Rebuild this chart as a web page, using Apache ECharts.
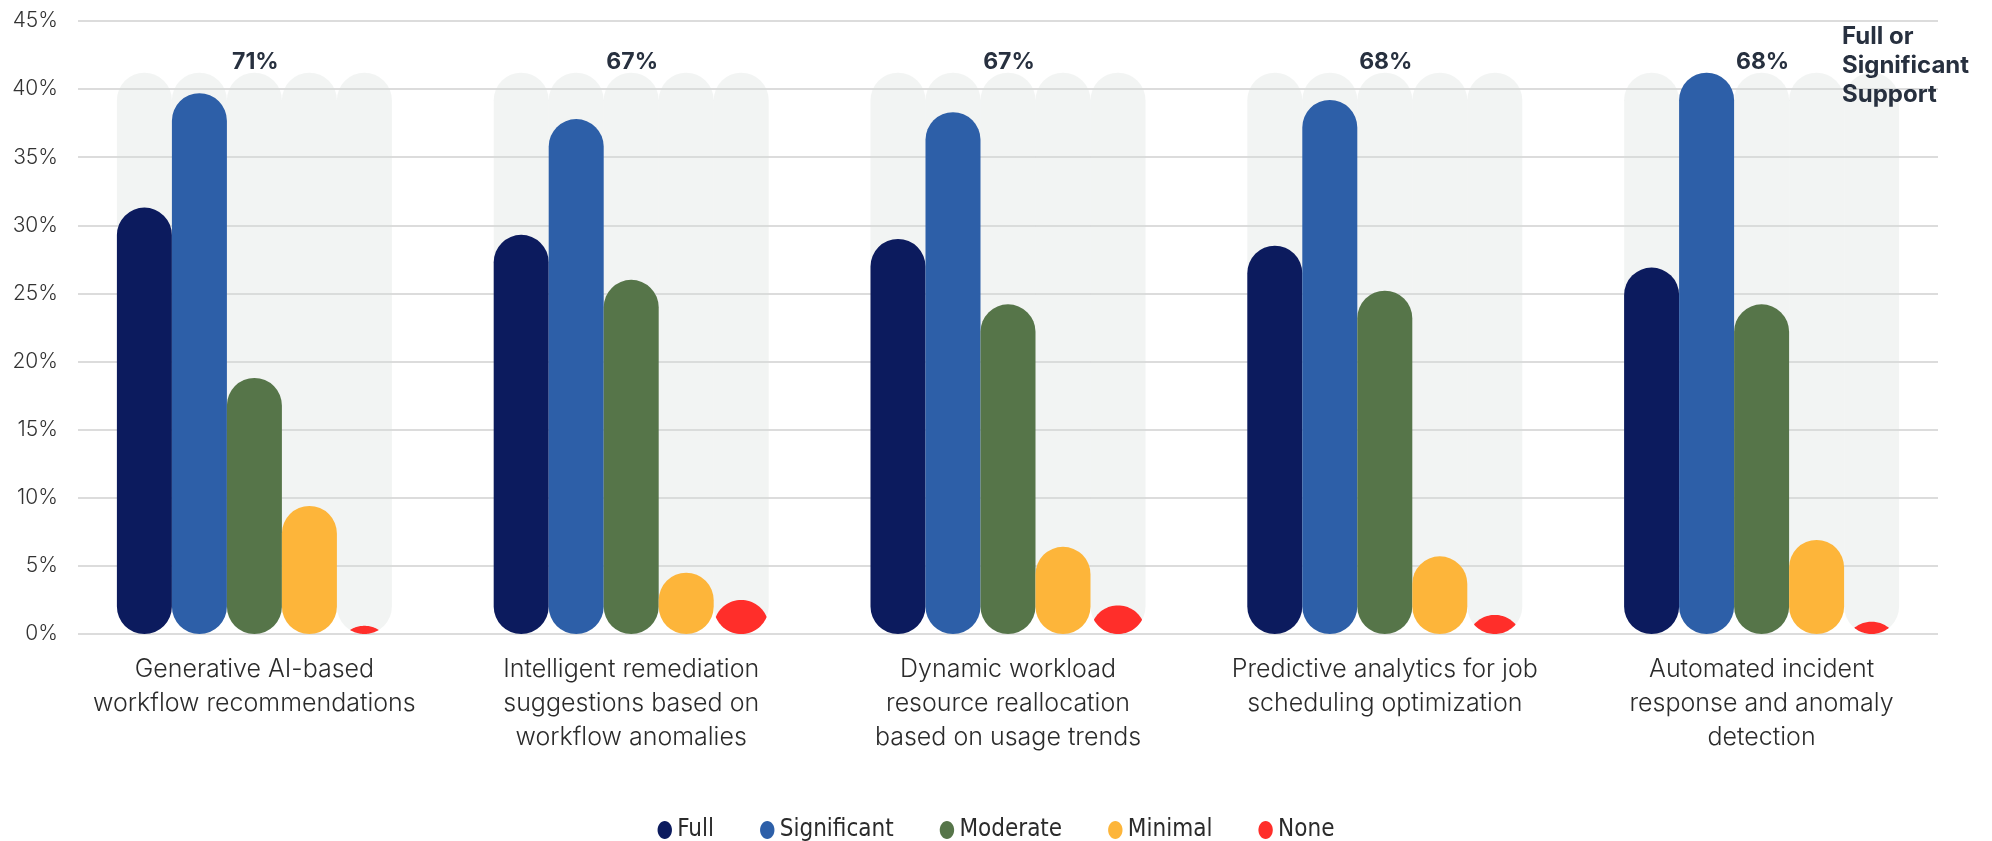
<!DOCTYPE html>
<html>
<head>
<meta charset="utf-8">
<script src="https://cdn.jsdelivr.net/npm/echarts@6/dist/echarts.min.js"></script>
<style>
html,body{margin:0;padding:0;background:#fff;}
#chart{width:1992px;height:841px;}
</style>
</head>
<body>
<div id="chart"></div>
<script>
const categories = [
  'Generative AI-based\nworkflow recommendations',
  'Intelligent remediation\nsuggestions based on\nworkflow anomalies',
  'Dynamic workload\nresource reallocation\nbased on usage trends',
  'Predictive analytics for job\nscheduling optimization',
  'Automated incident\nresponse and anomaly\ndetection'
];
const seriesNames = ['Full', 'Significant', 'Moderate', 'Minimal', 'None'];
const full        = [31.3, 29.3, 29.0, 28.5, 26.9];
const significant = [39.7, 37.8, 38.3, 39.2, 41.2];
const moderate    = [18.8, 26.0, 24.2, 25.2, 24.2];
const minimal     = [9.4, 4.5, 6.4, 5.7, 6.9];
const none        = [0.6, 2.5, 2.1, 1.4, 0.9];
const totals      = ['71%', '67%', '67%', '68%', '68%'];
const bgValues    = [41.2, 41.2, 41.2, 41.2, 41.2];
const yTicks      = { min: 0, max: 45, interval: 5 };

const colors = ['#0c1b5e', '#2d5fa8', '#567549', '#fdb53a', '#ff2e2a'];
const BAR_W = 55;
const FONT = 'Inter, "Noto Sans", sans-serif';
const NARROW = '"Liberation Sans Narrow", "DejaVu Sans Condensed", Roboto, sans-serif';

function drawBar(api, k) {
  const i = api.value(0), v = api.value(1);
  const b = api.coord([i, 0]);
  const t = api.coord([i, v]);
  const w = BAR_W, r = w / 2;
  const cx = b[0] + (k - 2) * w;
  const h = b[1] - t[1];
  const style = api.style();
  if (h >= w) {
    return { type: 'rect', shape: { x: cx - r, y: t[1], width: w, height: h, r: r }, style: style };
  }
  const ct = t[1] + r, cb = b[1] - r, mid = (t[1] + b[1]) / 2;
  const dh = (ct - cb) / 2;
  const hw = Math.sqrt(Math.max(r * r - dh * dh, 0));
  const pts = [];
  const N = 30;
  const a0 = Math.atan2(mid - ct, -hw), a1 = Math.atan2(mid - ct, hw);
  for (let s = 0; s <= N; s++) {
    const a = a0 + (a1 - a0) * s / N;
    pts.push([cx + r * Math.cos(a), ct + r * Math.sin(a)]);
  }
  const p0 = Math.atan2(mid - cb, hw), p1 = Math.atan2(mid - cb, -hw);
  for (let s = 1; s < N; s++) {
    const a = p0 + (p1 - p0) * s / N;
    pts.push([cx + r * Math.cos(a), cb + r * Math.sin(a)]);
  }
  return { type: 'polygon', shape: { points: pts }, style: style };
}

const fgData = [full, significant, moderate, minimal, none];

const bgSeries = [0, 1, 2, 3, 4].map(k => ({
  name: 'bg' + k,
  type: 'bar',
  xAxisIndex: 0, yAxisIndex: 0,
  barWidth: BAR_W,
  barGap: '0%',
  silent: true,
  z: 1,
  data: bgValues,
  itemStyle: { color: 'rgba(214,222,218,0.32)', borderRadius: BAR_W / 2 },
  label: k === 2 ? {
    show: true, position: 'top', distance: 5, offset: [1, 6],
    formatter: p => totals[p.dataIndex],
    fontSize: 23, fontWeight: 'bold', color: '#27303f', fontFamily: FONT
  } : { show: false }
}));

const fgSeries = seriesNames.map((name, k) => ({
  name: name,
  type: 'custom',
  xAxisIndex: 0, yAxisIndex: 0,
  z: 3,
  itemStyle: { color: colors[k] },
  encode: { x: 0, y: 1 },
  data: fgData[k].map((v, i) => [i, v]),
  renderItem: (params, api) => drawBar(api, k)
}));

const chart = echarts.init(document.getElementById('chart'), null, { renderer: 'canvas' });
chart.setOption({
  animation: false,
  backgroundColor: '#ffffff',
  color: colors,
  grid: [
    { left: 66, right: 42, top: 21, bottom: 207 },
    { left: 78, right: 54, top: 21, bottom: 207 }
  ],
  xAxis: [
    {
      type: 'category', gridIndex: 0, data: categories,
      axisLine: { show: false }, axisTick: { show: false },
      axisLabel: {
        interval: 0, margin: 18, fontSize: 25, lineHeight: 34,
        color: '#2b2b2b', fontFamily: FONT, fontWeight: 300
      }
    },
    { type: 'category', gridIndex: 1, data: categories, show: false }
  ],
  yAxis: [
    { type: 'value', gridIndex: 0, min: yTicks.min, max: yTicks.max, interval: yTicks.interval, show: false, splitLine: { show: false } },
    {
      type: 'value', gridIndex: 1, min: yTicks.min, max: yTicks.max, interval: yTicks.interval,
      axisLine: { show: false }, axisTick: { show: false },
      axisLabel: { formatter: '{value}%', margin: 20, fontSize: 21, color: '#333', fontFamily: FONT, fontWeight: 300 },
      splitLine: { lineStyle: { color: '#dcdcdc', width: 2 } }
    }
  ],
  legend: {
    data: seriesNames,
    top: 813, left: 'center',
    icon: 'path://M8,0 C12.4,0 16,4.5 16,10 C16,15.5 12.4,20 8,20 C3.6,20 0,15.5 0,10 C0,4.5 3.6,0 8,0 Z',
    itemWidth: 15, itemHeight: 18, itemGap: 46,
    textStyle: { fontSize: 24, color: '#2b2b2b', fontFamily: NARROW, padding: [0, 0, 0, 0] }
  },
  graphic: [{
    type: 'text', left: 1842, top: 22, z: 100,
    style: { text: 'Full or\nSignificant\nSupport', fontSize: 24, fontWeight: 'bold', fontFamily: FONT, fill: '#27303f', lineHeight: 29 }
  }],
  series: bgSeries.concat(fgSeries)
});
</script>
</body>
</html>
